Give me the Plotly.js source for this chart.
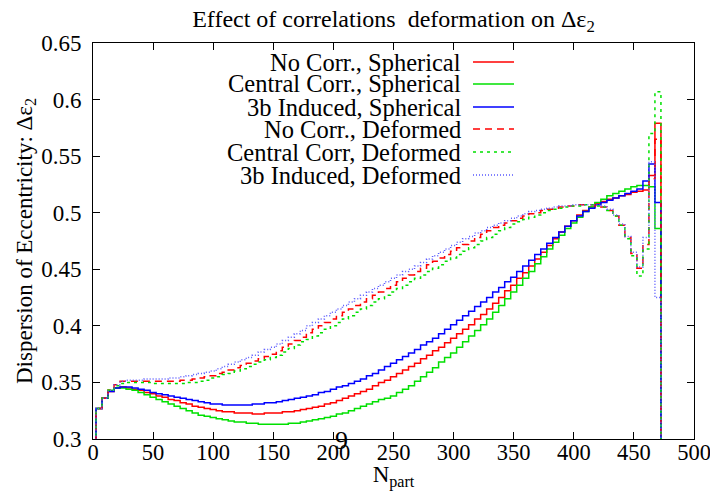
<!DOCTYPE html>
<html>
<head>
<meta charset="utf-8">
<script src="https://cdn.plot.ly/plotly-3.0.1.min.js"></script>
<style>html,body{margin:0;padding:0;background:#fff;}#chart{width:710px;height:491px;}</style>
</head>
<body>
<div id="chart"></div>
<script>
// Bin centres (N_part), bin width 5
const npart = [5,10,15,20,25,30,35,40,45,50,55,60,65,70,75,80,85,90,95,100,
 105,110,115,120,125,130,135,140,145,150,155,160,165,170,175,180,185,190,195,200,
 205,210,215,220,225,230,235,240,245,250,255,260,265,270,275,280,285,290,295,300,
 305,310,315,320,325,330,335,340,345,350,355,360,365,370,375,380,385,390,395,400,
 405,410,415,420,425,430,435,440,445,450,455,460,465,470];
const binWidth = 5;

const seriesNames = ["No Corr., Spherical","Central Corr., Spherical","3b Induced, Spherical",
  "No Corr., Deformed","Central Corr, Deformed","3b Induced, Deformed"];

const noCorrSph = [0.327,0.336,0.342,0.345,0.346,0.345,0.344,0.343,0.341,0.340,
 0.338,0.337,0.335,0.334,0.332,0.331,0.329,0.328,0.327,0.326,
 0.325,0.324,0.324,0.323,0.323,0.323,0.322,0.322,0.323,0.323,
 0.323,0.324,0.324,0.325,0.326,0.327,0.328,0.329,0.331,0.332,
 0.334,0.336,0.338,0.340,0.342,0.344,0.347,0.350,0.352,0.355,
 0.358,0.361,0.364,0.367,0.371,0.374,0.378,0.381,0.385,0.389,
 0.393,0.397,0.401,0.406,0.410,0.415,0.420,0.425,0.431,0.436,
 0.442,0.447,0.453,0.459,0.465,0.471,0.477,0.483,0.488,0.493,
 0.498,0.502,0.505,0.508,0.510,0.512,0.513,0.515,0.516,0.518,
 0.519,0.520,0.533,0.579];
const centralSph = [0.327,0.336,0.343,0.345,0.345,0.344,0.343,0.341,0.339,0.337,
 0.335,0.333,0.331,0.329,0.327,0.325,0.323,0.321,0.320,0.319,
 0.318,0.317,0.316,0.315,0.315,0.314,0.314,0.313,0.313,0.313,
 0.313,0.313,0.314,0.314,0.315,0.316,0.317,0.318,0.319,0.320,
 0.322,0.323,0.325,0.327,0.329,0.331,0.333,0.335,0.336,0.338,
 0.341,0.344,0.347,0.351,0.355,0.359,0.363,0.368,0.372,0.376,
 0.381,0.386,0.391,0.396,0.401,0.406,0.412,0.418,0.424,0.430,
 0.436,0.442,0.448,0.455,0.461,0.468,0.474,0.480,0.486,0.491,
 0.496,0.501,0.505,0.509,0.512,0.515,0.517,0.519,0.521,0.523,
 0.524,0.524,0.523,0.486];
const induced3bSph = [0.327,0.336,0.342,0.345,0.346,0.346,0.345,0.344,0.343,0.341,
 0.340,0.339,0.338,0.337,0.336,0.335,0.334,0.333,0.332,0.331,
 0.331,0.330,0.330,0.330,0.330,0.330,0.331,0.331,0.332,0.332,
 0.333,0.334,0.335,0.336,0.337,0.338,0.339,0.341,0.342,0.344,
 0.346,0.347,0.349,0.351,0.353,0.356,0.358,0.361,0.364,0.367,
 0.370,0.373,0.376,0.379,0.383,0.386,0.389,0.393,0.397,0.401,
 0.405,0.409,0.413,0.417,0.421,0.425,0.430,0.434,0.439,0.443,
 0.448,0.453,0.458,0.463,0.468,0.473,0.478,0.483,0.488,0.493,
 0.497,0.501,0.504,0.507,0.509,0.511,0.513,0.515,0.517,0.519,
 0.521,0.528,0.543,0.509];
const noCorrDef = [0.327,0.336,0.343,0.348,0.351,0.351,0.351,0.351,0.351,0.351,
 0.351,0.351,0.351,0.351,0.352,0.352,0.353,0.354,0.355,0.356,
 0.358,0.359,0.361,0.363,0.365,0.367,0.369,0.371,0.373,0.375,
 0.378,0.381,0.384,0.387,0.390,0.394,0.397,0.400,0.403,0.406,
 0.409,0.412,0.415,0.418,0.421,0.424,0.427,0.430,0.433,0.436,
 0.439,0.442,0.445,0.448,0.451,0.454,0.457,0.460,0.463,0.466,
 0.469,0.472,0.475,0.478,0.481,0.484,0.487,0.489,0.491,0.493,
 0.495,0.497,0.499,0.500,0.502,0.503,0.504,0.505,0.506,0.506,
 0.507,0.507,0.507,0.506,0.505,0.502,0.497,0.489,0.478,0.464,
 0.451,0.472,0.530,0.565];
const centralDef = [0.327,0.336,0.343,0.347,0.349,0.350,0.350,0.350,0.350,0.349,
 0.349,0.349,0.349,0.349,0.349,0.350,0.350,0.351,0.352,0.354,
 0.355,0.357,0.358,0.360,0.362,0.364,0.366,0.368,0.370,0.372,
 0.374,0.377,0.380,0.383,0.386,0.388,0.391,0.394,0.397,0.400,
 0.403,0.406,0.409,0.412,0.415,0.418,0.421,0.424,0.427,0.430,
 0.433,0.436,0.439,0.442,0.445,0.448,0.451,0.454,0.457,0.460,
 0.463,0.466,0.469,0.472,0.475,0.478,0.481,0.484,0.487,0.490,
 0.492,0.494,0.496,0.498,0.500,0.502,0.503,0.504,0.505,0.506,
 0.506,0.507,0.507,0.506,0.505,0.502,0.497,0.489,0.477,0.462,
 0.444,0.468,0.570,0.607];
const induced3bDef = [0.327,0.336,0.343,0.348,0.351,0.352,0.352,0.352,0.353,0.353,
 0.353,0.353,0.354,0.354,0.355,0.356,0.357,0.358,0.359,0.360,
 0.362,0.364,0.366,0.368,0.370,0.372,0.374,0.377,0.379,0.381,
 0.384,0.387,0.390,0.393,0.396,0.400,0.403,0.406,0.409,0.412,
 0.415,0.418,0.421,0.424,0.427,0.430,0.433,0.436,0.439,0.442,
 0.445,0.448,0.450,0.453,0.456,0.459,0.462,0.465,0.468,0.471,
 0.474,0.477,0.479,0.482,0.484,0.487,0.489,0.491,0.493,0.495,
 0.497,0.499,0.501,0.502,0.503,0.504,0.505,0.506,0.506,0.507,
 0.507,0.507,0.507,0.507,0.506,0.503,0.498,0.490,0.479,0.465,
 0.452,0.478,0.545,0.425];

const xTickVals = [0,50,100,150,200,250,300,350,400,450,500];
const xTickText = ["0","50","100","150","200","250","300","350","400","450","500"];
const yTickVals = [0.3,0.35,0.4,0.45,0.5,0.55,0.6,0.65];
const yTickText = ["0.3","0.35","0.4","0.45","0.5","0.55","0.6","0.65"];

const allSeries = [noCorrSph, centralSph, induced3bSph, noCorrDef, centralDef, induced3bDef];
const styles = [
  {color:'#ff0000', dash:'solid', width:1.5},
  {color:'#00e000', dash:'solid', width:1.5},
  {color:'#0000ff', dash:'solid', width:1.5},
  {color:'#ff0000', dash:'7px,5px', width:1.5},
  {color:'#00e000', dash:'3px,4px', width:1.5},
  {color:'#5a5aff', dash:'1px,2px', width:1.5}
];

// step histogram: edges from bin centres
function histPath(vals){
  const xs = [npart[0]-binWidth/2], ys = [0];
  for (let i=0;i<npart.length;i++){ xs.push(npart[i]-binWidth/2); ys.push(vals[i]); }
  xs.push(npart[npart.length-1]+binWidth/2); ys.push(0);
  return {xs, ys};
}

const traces = allSeries.map((vals,i)=>{
  const p = histPath(vals);
  return {x:p.xs, y:p.ys, type:'scatter', mode:'lines', name:seriesNames[i],
    line:{shape:'hv', color:styles[i].color, dash:styles[i].dash, width:styles[i].width},
    showlegend:false, hoverinfo:'skip'};
});

const font = '"Liberation Serif", "Times New Roman", Times, serif';
const L = 93, R = 694, T = 43, B = 439, W = 710, H = 491;
const legendRowsPx = [62, 84, 107, 129, 152, 175];
const annotations = [], shapes = [];
seriesNames.forEach((name,i)=>{
  const py = (B - legendRowsPx[i])/(B - T);
  annotations.push({xref:'paper', yref:'paper', x:(463-L)/(R-L), y:py, xanchor:'right', yanchor:'middle',
    text:name, showarrow:false, font:{family:font, size:24.5, color:'#000'}});
  shapes.push({type:'line', xref:'paper', yref:'paper', x0:(473-L)/(R-L), x1:(514-L)/(R-L), y0:py, y1:py,
    line:{color:styles[i].color, dash:styles[i].dash, width:styles[i].width}});
});
annotations.push({xref:'paper', yref:'paper', x:(341-L)/(R-L), y:(B-441)/(B-T), xanchor:'center', yanchor:'middle',
  text:'9', showarrow:false, font:{family:font, size:26, color:'#000'}});

const layout = {
  width:W, height:H,
  margin:{l:L, r:W-R, t:T, b:H-B},
  paper_bgcolor:'#fff', plot_bgcolor:'#fff',
  font:{family:font, size:22, color:'#000'},
  title:{text:'Effect of correlations &nbsp;deformation on Δε<sub>2</sub>', x:0.5, xref:'paper', xanchor:'center',
    y:1-19/H, yref:'container', yanchor:'middle', font:{family:font, size:24, color:'#000'}},
  xaxis:{range:[0,500], tickvals:xTickVals, ticktext:xTickText, ticks:'inside', ticklen:7, tickcolor:'#000',
    showline:true, linecolor:'#000', linewidth:1, mirror:'ticks', showgrid:false, zeroline:false,
    ticklabelstandoff:-7, ticklabeloverflow:'allow', tickfont:{family:font, size:22.5},
    title:{text:'N<sub>part</sub>', standoff:6, font:{family:font, size:23}}},
  yaxis:{range:[0.3,0.65], tickvals:yTickVals, ticktext:yTickText, ticks:'inside', ticklen:7, tickcolor:'#000',
    showline:true, linecolor:'#000', linewidth:1, mirror:'ticks', showgrid:false, zeroline:false,
    ticklabelstandoff:6, ticklabeloverflow:'allow', tickfont:{family:font, size:23},
    title:{text:'Dispersion of Eccentricity: Δε<sub>2</sub>', standoff:2, font:{family:font, size:23}}},
  annotations, shapes,
  showlegend:false
};

Plotly.newPlot('chart', traces, layout, {staticPlot:true, displayModeBar:false});
</script>
</body>
</html>
